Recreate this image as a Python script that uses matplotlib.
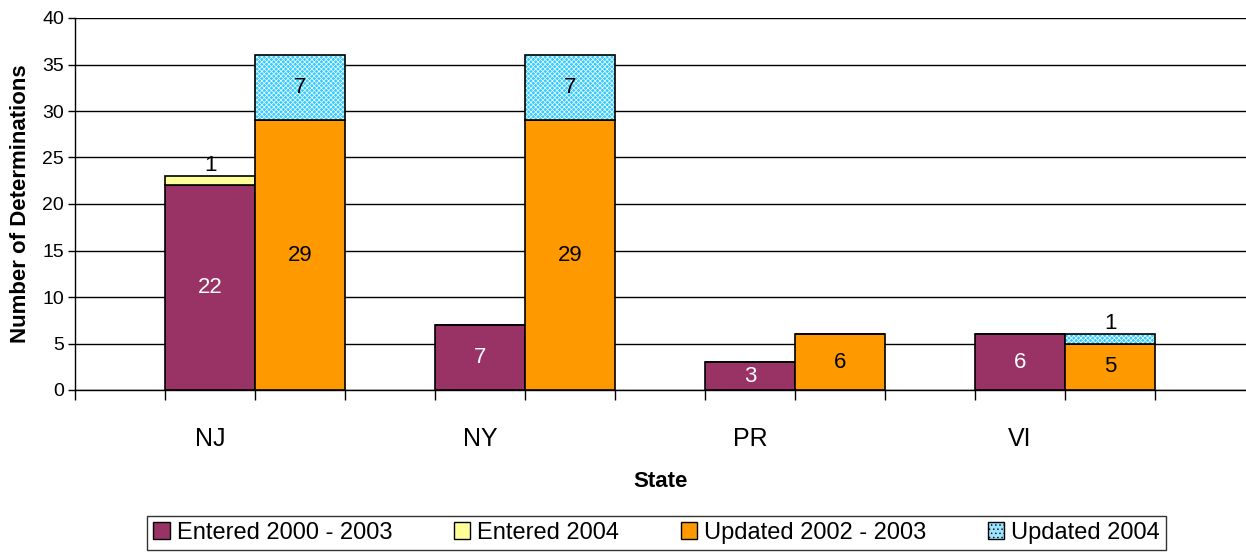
import matplotlib.pyplot as plt
import numpy as np
from matplotlib.patches import Patch

plt.rcParams['font.family'] = ['Liberation Sans', 'DejaVu Sans']
plt.rcParams['hatch.linewidth'] = 0.5

# Data
states = ['NJ', 'NY', 'PR', 'VI']
entered_2000_2003 = [22, 7, 3, 6]
entered_2004 = [1, 0, 0, 0]
updated_2002_2003 = [29, 29, 6, 5]
updated_2004 = [7, 7, 0, 1]

purple = '#993366'
yellow = '#FFFF99'
orange = '#FF9900'
cyan = '#33CCFF'

# Layout
fig = plt.figure(figsize=(12.46, 5.54), dpi=100)
ax = fig.add_axes([75 / 1246, 164 / 554, 1 - 75 / 1246, 372 / 554])

x = np.arange(len(states)) + 0.5
w = 1 / 3
x_upd = x + w

# Bars
ax.bar(x, entered_2000_2003, w, color=purple, edgecolor='black', lw=1.2, zorder=3)
ax.bar(x, entered_2004, w, bottom=entered_2000_2003, color=yellow,
       edgecolor='black', lw=1.2, zorder=3)
ax.bar(x_upd, updated_2002_2003, w, color=orange, edgecolor='black', lw=1.2, zorder=3)
ax.bar(x_upd, updated_2004, w, bottom=updated_2002_2003, color=cyan,
       edgecolor='white', hatch='xxxxxxx', lw=0, zorder=3)
ax.bar(x_upd, updated_2004, w, bottom=updated_2002_2003, fill=False,
       edgecolor='black', lw=1.2, zorder=4)


def add_labels(xs, vals, bottoms, color):
    for xi, v, b in zip(xs, vals, bottoms):
        if v == 0:
            continue
        if v < 2:
            y = b + 2.1
            c = 'black'
        else:
            y = b + v / 2
            c = color
        ax.text(xi, y, str(v), ha='center', va='center', fontsize=16, color=c, zorder=5)


add_labels(x, entered_2000_2003, [0] * 4, 'white')
add_labels(x, entered_2004, entered_2000_2003, 'black')
add_labels(x_upd, updated_2002_2003, [0] * 4, 'black')
add_labels(x_upd, updated_2004, updated_2002_2003, 'black')

# Axes details
ax.set_xlim(0, (1246 - 75) / 270)
ax.set_ylim(0, 40)
ax.set_yticks(range(0, 41, 5))
ax.yaxis.grid(True, color='black', lw=1)
ax.set_axisbelow(True)
ax.tick_params(axis='y', labelsize=14, length=5, width=1, pad=3)

edges = sorted(set([0] + list(x - w / 2) + list(x + w / 2) + list(x + 1.5 * w)))
ax.set_xticks(edges)
ax.set_xticklabels([])
ax.tick_params(axis='x', which='major', length=7, width=1, direction='out')
ax.set_xticks(x, minor=True)
ax.set_xticklabels(states, minor=True, fontsize=18)
ax.tick_params(axis='x', which='minor', length=0, pad=27)

for s in ['top', 'right']:
    ax.spines[s].set_visible(False)
ax.spines['left'].set_linewidth(1)
ax.spines['bottom'].set_linewidth(1)

ax.set_xlabel('State', fontsize=16, fontweight='bold', labelpad=14)
ax.set_ylabel('Number of Determinations', fontsize=16, fontweight='bold', labelpad=8)

handles = [
    Patch(facecolor=purple, edgecolor='black', label='Entered 2000 - 2003'),
    Patch(facecolor=yellow, edgecolor='black', label='Entered 2004'),
    Patch(facecolor=orange, edgecolor='black', label='Updated 2002 - 2003'),
    Patch(facecolor='#9BE3FF', edgecolor='black', hatch='....', label='Updated 2004'),
]
leg = fig.legend(handles=handles, loc='center', bbox_to_anchor=(0.527, 0.038),
                 ncol=4, fontsize=17, frameon=True, fancybox=False,
                 handlelength=0.7, handleheight=0.7, handletextpad=0.3,
                 columnspacing=2.6, borderpad=0.25)
leg.get_frame().set_edgecolor('black')
leg.get_frame().set_linewidth(1)

fig.savefig('out.png', dpi=100)
